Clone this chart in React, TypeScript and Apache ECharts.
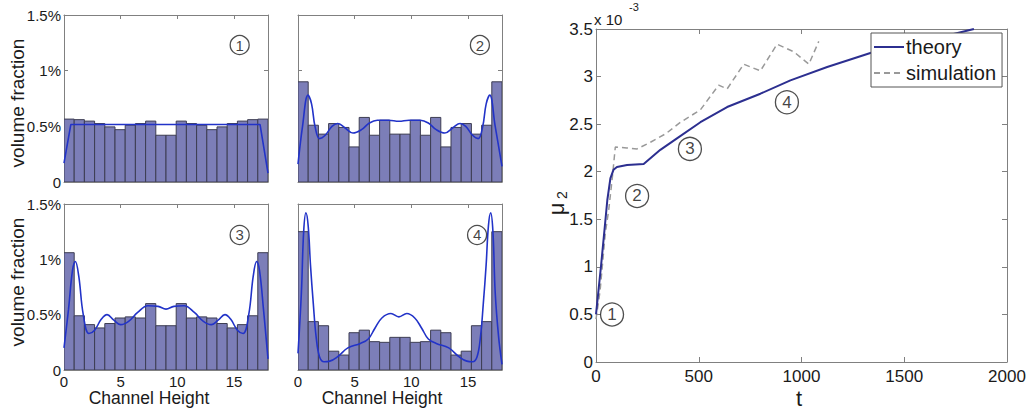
import React, { useEffect, useRef } from 'react';
import * as echarts from 'echarts';

// ---------- data ----------
const CHANNEL_MAX = 18;
const BIN_COUNT = 20;

const bars1 = [0.565, 0.56, 0.547, 0.525, 0.495, 0.47, 0.51, 0.525, 0.547, 0.42, 0.42, 0.547, 0.525, 0.51, 0.47, 0.495, 0.525, 0.547, 0.56, 0.565];
const bars2 = [0.9, 0.51, 0.43, 0.525, 0.49, 0.315, 0.58, 0.42, 0.555, 0.43, 0.43, 0.555, 0.42, 0.58, 0.315, 0.49, 0.525, 0.43, 0.51, 0.9];
const bars3 = [1.06, 0.49, 0.41, 0.38, 0.42, 0.47, 0.48, 0.47, 0.6, 0.4, 0.4, 0.6, 0.47, 0.48, 0.47, 0.42, 0.38, 0.41, 0.49, 1.06];
const bars4 = [1.25, 0.437, 0.4, 0.17, 0.135, 0.337, 0.36, 0.256, 0.25, 0.295, 0.295, 0.25, 0.256, 0.36, 0.337, 0.135, 0.17, 0.4, 0.437, 1.25];

const curve1 = [[0, 0.17], [0.6, 0.516], [17.3, 0.516], [18, 0.08]];
const curve2 = [
  [0, 0.16], [0.4, 0.5], [0.88, 0.78], [1.2, 0.7], [1.5, 0.5], [1.9, 0.39], [2.4, 0.42], [3.0, 0.5], [3.5, 0.525],
  [4.1, 0.49], [4.85, 0.44], [5.6, 0.47], [6.3, 0.53], [7.0, 0.555], [8.0, 0.555], [8.9, 0.545], [9.8, 0.555],
  [10.8, 0.555], [11.5, 0.53], [12.2, 0.47], [12.95, 0.44], [13.7, 0.49], [14.3, 0.525], [14.8, 0.5], [15.4, 0.42],
  [15.9, 0.39], [16.3, 0.5], [16.6, 0.7], [16.92, 0.78], [17.4, 0.5], [18, 0.14],
];
const curve3 = [
  [0, 0.2], [0.4, 0.55], [0.75, 0.9], [1.0, 0.98], [1.3, 0.85], [1.7, 0.5], [2.2, 0.33], [2.7, 0.36], [3.3, 0.46],
  [3.8, 0.5], [4.4, 0.45], [5.0, 0.41], [5.7, 0.44], [6.5, 0.52], [7.4, 0.58], [8.3, 0.575], [9.0, 0.55],
  [9.7, 0.575], [10.6, 0.58], [11.5, 0.52], [12.3, 0.44], [13.0, 0.41], [13.6, 0.45], [14.2, 0.5], [14.7, 0.46],
  [15.3, 0.36], [15.8, 0.33], [16.3, 0.5], [16.7, 0.85], [17.0, 0.98], [17.25, 0.9], [17.6, 0.55], [18, 0.1],
];
const curve4 = [
  [0, 0.15], [0.3, 0.7], [0.5, 1.25], [0.7, 1.42], [0.9, 1.3], [1.1, 0.95], [1.35, 0.6], [1.6, 0.3], [1.9, 0.12],
  [2.3, 0.075], [2.8, 0.08], [3.5, 0.12], [4.4, 0.2], [5.5, 0.24], [6.2, 0.28], [6.8, 0.38], [7.4, 0.47],
  [8.2, 0.51], [8.9, 0.48], [9.6, 0.51], [10.3, 0.47], [10.9, 0.38], [11.5, 0.28], [12.2, 0.24], [13.3, 0.2],
  [14.2, 0.12], [14.9, 0.08], [15.4, 0.075], [15.8, 0.12], [16.1, 0.3], [16.35, 0.6], [16.6, 0.95], [16.8, 1.3],
  [17.0, 1.42], [17.2, 1.25], [17.4, 0.7], [17.7, 0.3], [18, 0.05],
];

const theory = [
  [0, 0.5], [12, 0.75], [24, 1.0], [41, 1.38], [55, 1.7], [70, 1.93], [85, 2.02], [102, 2.05], [151, 2.07],
  [232, 2.08], [313, 2.23], [394, 2.35], [508, 2.52], [638, 2.68], [800, 2.82], [946, 2.96], [1125, 3.1],
  [1339, 3.25], [1500, 3.33], [1725, 3.44], [1839, 3.5],
];
const simulation = [
  [0, 0.45], [20, 0.75], [45, 1.35], [62, 1.6], [80, 1.95], [94, 2.26], [150, 2.25], [200, 2.24], [265, 2.31],
  [340, 2.4], [411, 2.52], [508, 2.65], [597, 2.91], [638, 2.87], [719, 3.13], [800, 3.06], [881, 3.34],
  [963, 3.26], [1036, 3.13], [1084, 3.37],
];

const stageMarks = [
  { name: '1', value: [78, 0.5] },
  { name: '2', value: [200, 1.745] },
  { name: '3', value: [457, 2.24] },
  { name: '4', value: [929, 2.73] },
];

const yTicksPct = [0, 0.5, 1, 1.5];
const xTicksChannel = [0, 5, 10, 15];

// ---------- style ----------
const FONT = '"Liberation Sans", Arial, Helvetica, sans-serif';
const AXIS_COLOR = '#808080';
const TEXT = '#1a1a1a';
const BAR_FILL = '#7c7eb8';
const BAR_EDGE = '#3d3d52';
const CURVE = '#2233c8';

const panels = [
  { bars: bars1, curve: curve1, smooth: false, mark: { name: '1', value: [15.5, 1.23] }, grid: { left: 64, top: 15, width: 204, height: 167 }, showX: false, showY: true },
  { bars: bars2, curve: curve2, smooth: 0.4, mark: { name: '2', value: [16.05, 1.23] }, grid: { left: 298, top: 15, width: 204, height: 167 }, showX: false, showY: false },
  { bars: bars3, curve: curve3, smooth: 0.4, mark: { name: '3', value: [15.5, 1.22] }, grid: { left: 64, top: 204, width: 204, height: 166 }, showX: true, showY: true },
  { bars: bars4, curve: curve4, smooth: 0.4, mark: { name: '4', value: [15.8, 1.22] }, grid: { left: 298, top: 204, width: 204, height: 166 }, showX: true, showY: false },
];

function buildOption() {
  const grids: any[] = [];
  const xAxes: any[] = [];
  const yAxes: any[] = [];
  const series: any[] = [];
  const line = { show: true, onZero: false, lineStyle: { color: AXIS_COLOR, width: 1 } };
  const tick = { show: true, inside: true, length: 4, lineStyle: { color: AXIS_COLOR } };
  const binW = CHANNEL_MAX / BIN_COUNT;

  panels.forEach((p, i) => {
    grids.push({ ...p.grid, show: true, backgroundColor: '#fff', borderWidth: 0 });
    const xb = {
      gridIndex: i, type: 'value', position: 'bottom', min: 0, max: CHANNEL_MAX, interval: 5,
      axisLine: line, axisTick: tick, splitLine: { show: false },
      axisLabel: {
        show: p.showX, showMaxLabel: false, fontSize: 15, color: TEXT, fontFamily: FONT, margin: 4,
        formatter: (v: number) => (xTicksChannel.includes(v) ? String(v) : ''),
      },
    };
    xAxes.push(xb, { ...xb, position: 'top', axisLabel: { show: false } });
    const yl = {
      gridIndex: i, type: 'value', position: 'left', min: 0, max: 1.5, interval: 0.5,
      axisLine: line, axisTick: tick, splitLine: { show: false },
      axisLabel: {
        show: p.showY, fontSize: 15, color: TEXT, fontFamily: FONT, margin: 3,
        formatter: (v: number) => (yTicksPct.includes(v) ? (v === 0 ? '0' : v + '%') : ''),
      },
    };
    yAxes.push(yl, { ...yl, position: 'right', axisLabel: { show: false } });

    series.push({
      type: 'custom', xAxisIndex: 2 * i, yAxisIndex: 2 * i, silent: true, clip: true, z: 1,
      data: p.bars.map((h, k) => [k * binW, (k + 1) * binW, h]),
      encode: { x: [0, 1], y: 2 },
      renderItem: (_params: any, api: any) => {
        const tl = api.coord([api.value(0), api.value(2)]);
        const br = api.coord([api.value(1), 0]);
        return {
          type: 'rect',
          shape: { x: tl[0], y: tl[1], width: br[0] - tl[0], height: br[1] - tl[1] },
          style: { fill: BAR_FILL, stroke: BAR_EDGE, lineWidth: 1 },
        };
      },
    });
    series.push({
      type: 'line', xAxisIndex: 2 * i, yAxisIndex: 2 * i, data: p.curve, smooth: p.smooth,
      symbol: 'none', lineStyle: { color: CURVE, width: 1.6 }, z: 3, silent: true,
    });
    series.push({
      type: 'scatter', xAxisIndex: 2 * i, yAxisIndex: 2 * i, data: [p.mark], symbol: 'circle', symbolSize: 19,
      itemStyle: { color: '#fff', borderColor: '#222', borderWidth: 1.3 }, z: 4, silent: true,
      label: { show: true, position: 'inside', formatter: '{b}', fontSize: 15, color: '#111', fontFamily: FONT },
    });
  });

  // big chart
  grids.push({ left: 596, top: 29, width: 411, height: 333, show: true, backgroundColor: '#fff', borderWidth: 0 });
  const bx = {
    gridIndex: 4, type: 'value', position: 'bottom', min: 0, max: 2000, interval: 500,
    axisLine: line, axisTick: { ...tick, length: 5 }, splitLine: { show: false },
    axisLabel: { fontSize: 17, color: TEXT, fontFamily: FONT, margin: 6, formatter: (v: number) => String(v) },
  };
  xAxes.push(bx, { ...bx, position: 'top', axisLabel: { show: false } });
  const by = {
    gridIndex: 4, type: 'value', position: 'left', min: 0, max: 3.5, interval: 0.5,
    axisLine: line, axisTick: { ...tick, length: 5 }, splitLine: { show: false },
    axisLabel: { fontSize: 17, color: TEXT, fontFamily: FONT, margin: 3, formatter: (v: number) => String(v) },
  };
  yAxes.push(by, { ...by, position: 'right', axisLabel: { show: false } });
  series.push({
    name: 'theory', type: 'line', xAxisIndex: 8, yAxisIndex: 8, data: theory, symbol: 'none',
    lineStyle: { color: '#2c2f90', width: 2 }, itemStyle: { color: '#2c2f90' }, z: 3,
  });
  series.push({
    name: 'simulation', type: 'line', xAxisIndex: 8, yAxisIndex: 8, data: simulation, symbol: 'none',
    lineStyle: { color: '#999', width: 1.5, type: [6, 4] }, itemStyle: { color: '#999' }, z: 2,
  });
  series.push({
    type: 'scatter', xAxisIndex: 8, yAxisIndex: 8, data: stageMarks, symbol: 'circle', symbolSize: 23,
    itemStyle: { color: '#fff', borderColor: '#222', borderWidth: 1.3 }, z: 4, silent: true,
    label: { show: true, position: 'inside', formatter: '{b}', fontSize: 17, color: '#111', fontFamily: FONT },
  });

  const graphic: any[] = [
    { type: 'text', x: 17, y: 103, rotation: Math.PI / 2, style: { text: 'volume fraction', font: `19px ${FONT}`, fill: TEXT, align: 'center', verticalAlign: 'middle' } },
    { type: 'text', x: 17, y: 282, rotation: Math.PI / 2, style: { text: 'volume fraction', font: `19px ${FONT}`, fill: TEXT, align: 'center', verticalAlign: 'middle' } },
    { type: 'text', x: 149, y: 398, style: { text: 'Channel Height', font: `17.5px ${FONT}`, fill: TEXT, align: 'center', verticalAlign: 'middle' } },
    { type: 'text', x: 382, y: 398, style: { text: 'Channel Height', font: `17.5px ${FONT}`, fill: TEXT, align: 'center', verticalAlign: 'middle' } },
    { type: 'text', x: 799, y: 398, style: { text: 't', font: `22px ${FONT}`, fill: TEXT, align: 'center', verticalAlign: 'middle' } },
    { type: 'text', x: 556, y: 209, rotation: Math.PI / 2, style: { text: 'μ', font: `22px ${FONT}`, fill: TEXT, align: 'center', verticalAlign: 'middle' } },
    { type: 'text', x: 562, y: 195, rotation: Math.PI / 2, style: { text: '2', font: `14px ${FONT}`, fill: TEXT, align: 'center', verticalAlign: 'middle' } },
    { type: 'text', x: 594, y: 19, style: { text: 'x 10', font: `15px ${FONT}`, fill: TEXT, align: 'left', verticalAlign: 'middle' } },
    { type: 'text', x: 629, y: 7, style: { text: '-3', font: `11px ${FONT}`, fill: TEXT, align: 'left', verticalAlign: 'middle' } },
  ];

  return {
    animation: false,
    backgroundColor: '#fff',
    textStyle: { fontFamily: FONT },
    grid: grids,
    xAxis: xAxes,
    yAxis: yAxes,
    legend: {
      data: ['theory', 'simulation'], orient: 'vertical', left: 871, top: 33,
      backgroundColor: '#fff', borderColor: '#555', borderWidth: 1, padding: [4, 6, 4, 2],
      itemWidth: 30, itemHeight: 14, itemGap: 6, itemStyle: { opacity: 0 },
      textStyle: { fontSize: 20, color: TEXT, fontFamily: FONT, padding: [0, 0, 0, -3] },
    },
    series,
    graphic,
  };
}

export default function App() {
  const ref = useRef<HTMLDivElement>(null);
  useEffect(() => {
    if (!ref.current) return;
    const chart = echarts.init(ref.current, undefined, { renderer: 'svg' });
    chart.setOption(buildOption() as any);
    return () => chart.dispose();
  }, []);
  return <div ref={ref} style={{ position: 'fixed', left: 0, top: 0, width: 1033, height: 409 }} />;
}
